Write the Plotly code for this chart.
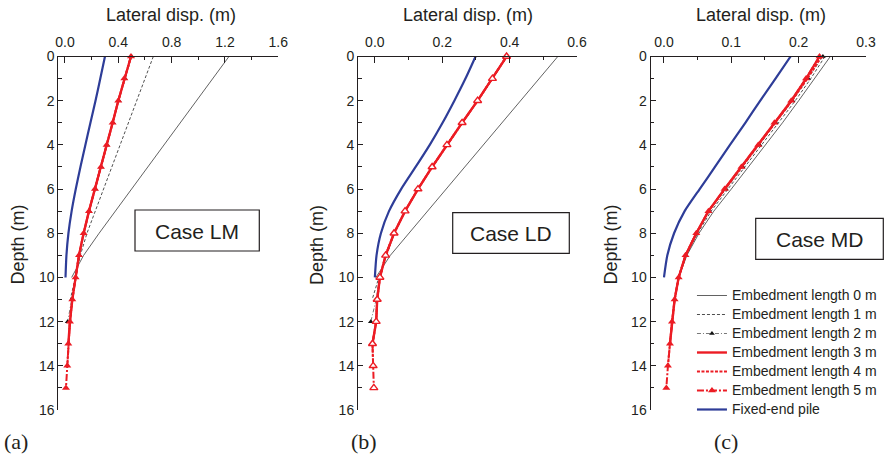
import plotly.graph_objects as go

W, H = 886, 459

# ---------------- data ----------------
depth_0m = list(range(0, 11))
depth_1m = list(range(0, 12))
depth_2m = list(range(0, 13))
depth_3m = list(range(0, 14))
depth_4m = list(range(0, 15))
depth_5m = list(range(0, 16))
depth_fixed = list(range(0, 11))

series_names = ["Embedment length 0 m", "Embedment length 1 m", "Embedment length 2 m",
                "Embedment length 3 m", "Embedment length 4 m", "Embedment length 5 m",
                "Fixed-end pile"]

# Case LM
a_0m = [1.23, 1.108, 0.986, 0.864, 0.742, 0.62, 0.498, 0.376, 0.256, 0.14, 0.05]
a_1m = [0.6625, 0.60, 0.539, 0.477, 0.416, 0.354, 0.292, 0.231, 0.165, 0.115, 0.08, 0.04]
a_2m = [0.50, 0.45, 0.404, 0.36, 0.315, 0.272, 0.228, 0.183, 0.142, 0.108, 0.082, 0.052, 0.02]
a_3m = [0.495, 0.445, 0.40, 0.3575, 0.3125, 0.27, 0.225, 0.18, 0.14, 0.105, 0.08, 0.055, 0.0375, 0.025]
a_4m = [0.495, 0.445, 0.40, 0.3575, 0.3125, 0.27, 0.225, 0.18, 0.14, 0.105, 0.08, 0.055, 0.0375, 0.025, 0.0175]
a_5m = [0.495, 0.445, 0.40, 0.3575, 0.3125, 0.27, 0.225, 0.18, 0.14, 0.105, 0.08, 0.055, 0.0375, 0.025, 0.0175, 0.0075]
a_fixed = [0.30, 0.265, 0.229, 0.191, 0.153, 0.116, 0.081, 0.05, 0.026, 0.011, 0.004]

# Case LD
b_0m = [0.543, 0.488, 0.433, 0.377, 0.322, 0.267, 0.212, 0.157, 0.101, 0.046, 0.003]
b_1m = [0.393, 0.35, 0.306, 0.26, 0.215, 0.171, 0.129, 0.09, 0.058, 0.034, 0.012, -0.008]
b_2m = [0.392, 0.349, 0.305, 0.259, 0.214, 0.170, 0.128, 0.09, 0.057, 0.032, 0.014, 0.004, -0.012]
b_3m = [0.391, 0.349, 0.305, 0.259, 0.214, 0.170, 0.128, 0.0897, 0.057, 0.032, 0.015, 0.007, 0.004, -0.007]
b_4m = [0.391, 0.349, 0.305, 0.259, 0.214, 0.170, 0.128, 0.0897, 0.057, 0.032, 0.015, 0.007, 0.004, -0.007, -0.005]
b_5m = [0.391, 0.349, 0.305, 0.259, 0.214, 0.170, 0.128, 0.0897, 0.057, 0.032, 0.015, 0.007, 0.004, -0.007, -0.005, -0.003]
b_fixed = [0.299, 0.269, 0.236, 0.201, 0.163, 0.121, 0.078, 0.042, 0.018, 0.005, 0.0]

# Case MD
c_0m = [0.247, 0.224, 0.200, 0.176, 0.151, 0.126, 0.100, 0.074, 0.052, 0.034, 0.022]
c_1m = [0.239, 0.218, 0.195, 0.170, 0.146, 0.121, 0.095, 0.070, 0.050, 0.033, 0.022, 0.016]
c_2m = [0.236, 0.214, 0.191, 0.166, 0.142, 0.117, 0.092, 0.067, 0.048, 0.032, 0.022, 0.016, 0.012]
c_3m = [0.231, 0.211, 0.189, 0.164, 0.140, 0.115, 0.090, 0.066, 0.048, 0.032, 0.0218, 0.0158, 0.0119, 0.0089]
c_4m = [0.234, 0.213, 0.190, 0.165, 0.141, 0.116, 0.091, 0.066, 0.048, 0.032, 0.0218, 0.0158, 0.0119, 0.0089, 0.0059]
c_5m = [0.231, 0.211, 0.189, 0.164, 0.140, 0.115, 0.090, 0.066, 0.048, 0.032, 0.0218, 0.0158, 0.0119, 0.0089, 0.0059, 0.0035]
c_fixed = [0.188, 0.1656, 0.143, 0.1208, 0.098, 0.0757, 0.053, 0.0307, 0.015, 0.005, 0.0]

case_labels = ["Case LM", "Case LD", "Case MD"]
panel_labels = ["(a)", "(b)", "(c)"]
x_ranges = [[-0.05, 1.6], [-0.05, 0.6], [-0.02, 0.3]]
x_dticks = [0.4, 0.2, 0.1]
x_ticks_fmt = [".1f", ".1f", ".1f"]
depth_ticks = [0, 2, 4, 6, 8, 10, 12, 14, 16]

# ---------------- styles ----------------
TXT = "#231f20"
RED = "#ec1c24"
BLUE = "#2e3d98"
SANS = "Liberation Sans, Arial, sans-serif"
SERIF = "Liberation Serif, Times New Roman, serif"

panels = [
    (a_0m, a_1m, a_2m, a_3m, a_4m, a_5m, a_fixed),
    (b_0m, b_1m, b_2m, b_3m, b_4m, b_5m, b_fixed),
    (c_0m, c_1m, c_2m, c_3m, c_4m, c_5m, c_fixed),
]
depths = [depth_0m, depth_1m, depth_2m, depth_3m, depth_4m, depth_5m, depth_fixed]


def px_x(p):
    return p / W


def px_y(p):
    return 1 - p / H


x_domains = [[px_x(58.3), px_x(278.3)], [px_x(358.0), px_x(577.0)], [px_x(650.5), px_x(866.0)]]
y_domain = [px_y(410.0), px_y(56.5)]

fig = go.Figure()

for i, vals in enumerate(panels):
    xa = "x" if i == 0 else f"x{i+1}"
    ya = "y" if i == 0 else f"y{i+1}"
    show = (i == 2)
    open_mk = (i == 1)
    styles = [
        dict(mode="lines", line=dict(color="#3a3a3a", width=0.8)),
        dict(mode="lines", line=dict(color="#222222", width=0.8, dash="3px,2px")),
        dict(mode="lines+markers", line=dict(color="#555555", width=0.8, dash="4px,2px,1px,2px"),
             marker=dict(symbol="triangle-up", size=5, color="#111111")),
        dict(mode="lines", line=dict(color=RED, width=2.4)),
        dict(mode="lines", line=dict(color=RED, width=2.0, dash="3px,1.5px")),
        dict(mode="lines+markers", line=dict(color=RED, width=2.0, dash="7px,2px,2px,2px"),
             marker=(dict(symbol="triangle-up", size=7, color="white", line=dict(color=RED, width=1.4))
                     if open_mk else dict(symbol="triangle-up", size=7, color=RED))),
        dict(mode="lines", line=dict(color=BLUE, width=2.2, shape="spline", smoothing=0.6)),
    ]
    for k in range(7):
        label = f'<span style="font-size:14px">{series_names[k]}</span>'
        fig.add_trace(go.Scatter(x=vals[k], y=depths[k], name=label, xaxis=xa, yaxis=ya,
                                 showlegend=show, cliponaxis=False, **styles[k]))

axis_font = dict(family=SANS, size=14, color=TXT)
layout = dict(
    width=W, height=H, autosize=False,
    margin=dict(l=0, r=0, t=0, b=0, autoexpand=False),
    paper_bgcolor="white", plot_bgcolor="white",
    font=dict(family=SANS, color=TXT),
    legend=dict(x=0.781, y=px_y(281), xanchor="left", yanchor="top",
                bgcolor="rgba(0,0,0,0)", font=dict(family=SANS, size=11.8, color=TXT),
                traceorder="normal", tracegroupgap=0, itemwidth=30),
    shapes=[], annotations=[],
)

for i in range(3):
    xk = "xaxis" if i == 0 else f"xaxis{i+1}"
    yk = "yaxis" if i == 0 else f"yaxis{i+1}"
    ya = "y" if i == 0 else f"y{i+1}"
    xa = "x" if i == 0 else f"x{i+1}"
    layout[xk] = dict(domain=x_domains[i], anchor=ya, side="top", range=x_ranges[i],
                      tick0=0, dtick=x_dticks[i], tickformat=x_ticks_fmt[i],
                      ticks="inside", ticklen=6, tickwidth=1, tickcolor=TXT,
                      showline=True, linecolor=TXT, linewidth=1, showgrid=False, zeroline=False,
                      tickfont=axis_font, automargin=False, ticklabelstandoff=3,
                      minor=dict(dtick=x_dticks[i] / 2, tick0=0, ticks="inside", ticklen=3.5,
                                 tickcolor=TXT, tickwidth=1, showgrid=False))
    layout[yk] = dict(domain=y_domain, anchor=xa, range=[16, 0], tickvals=depth_ticks,
                      ticks="inside", ticklen=5, tickwidth=1, tickcolor=TXT,
                      showline=True, linecolor=TXT, linewidth=1, showgrid=False, zeroline=False,
                      tickfont=axis_font, automargin=False,
                      minor=dict(dtick=1, ticks="inside", ticklen=3.5, tickcolor=TXT,
                                 tickwidth=1, showgrid=False))

# axis titles
top_title_x = [170.5, 467.5, 761.0]
depth_title_x = [17.5, 317.0, 610.5]
for i in range(3):
    layout["annotations"].append(dict(text="Lateral disp. (m)", xref="paper", yref="paper",
                                      x=px_x(top_title_x[i]), y=px_y(15.5), xanchor="center",
                                      yanchor="middle", showarrow=False,
                                      font=dict(family=SANS, size=18, color=TXT)))
    layout["annotations"].append(dict(text="Depth (m)", xref="paper", yref="paper",
                                      x=px_x(depth_title_x[i]), y=px_y(245), xanchor="center",
                                      yanchor="middle", textangle=-90, showarrow=False,
                                      font=dict(family=SANS, size=18, color=TXT)))

# case boxes
boxes = [(135.0, 210.0, 259.3, 251.0), (452.7, 212.7, 569.3, 253.3), (755.7, 218.3, 883.3, 259.3)]
for i, (x0, y0, x1, y1) in enumerate(boxes):
    layout["shapes"].append(dict(type="rect", xref="paper", yref="paper",
                                 x0=px_x(x0), x1=px_x(x1), y0=px_y(y1), y1=px_y(y0),
                                 line=dict(color=TXT, width=1.2), fillcolor="white", layer="above"))
    layout["annotations"].append(dict(text=case_labels[i], xref="paper", yref="paper",
                                      x=px_x((x0 + x1) / 2), y=px_y((y0 + y1) / 2 + 1),
                                      xanchor="center", yanchor="middle", showarrow=False,
                                      font=dict(family=SANS, size=21, color=TXT)))

# panel labels
panel_x = [16.0, 363.8, 726.0]
for i in range(3):
    layout["annotations"].append(dict(text=panel_labels[i], xref="paper", yref="paper",
                                      x=px_x(panel_x[i]), y=px_y(441), xanchor="center",
                                      yanchor="middle", showarrow=False,
                                      font=dict(family=SERIF, size=22, color=TXT)))

fig.update_layout(**layout)
fig.write_html("out.html")
